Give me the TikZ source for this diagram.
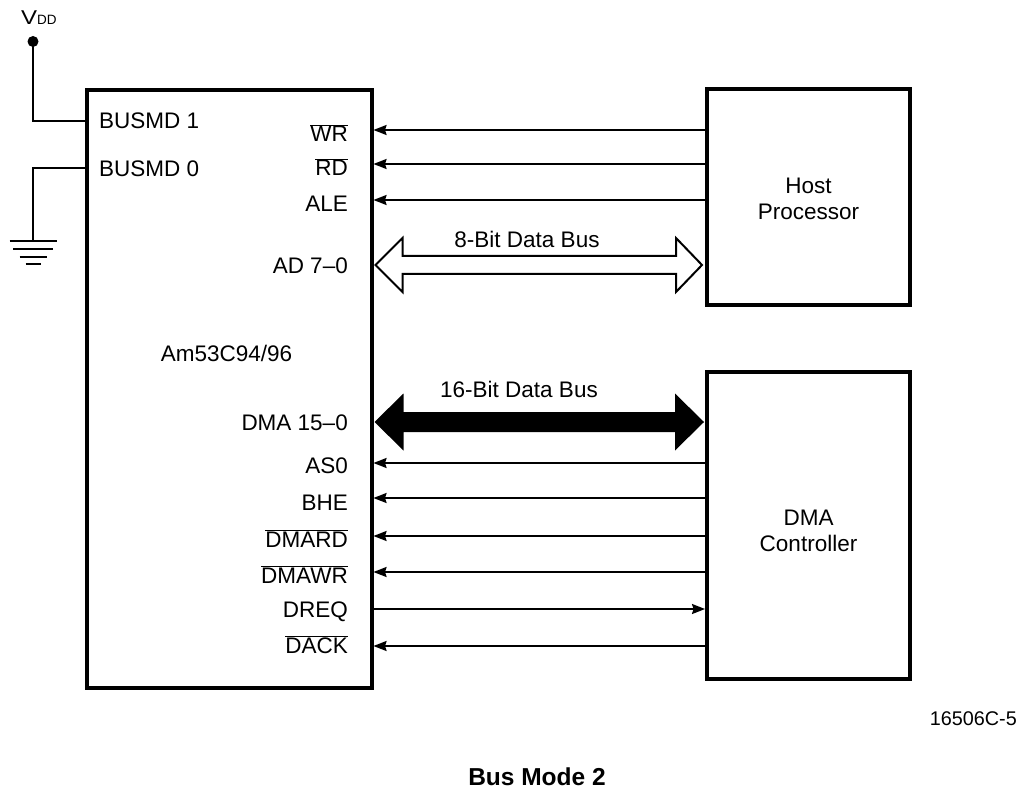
\documentclass[tikz,border=0pt]{standalone}
\usepackage{fontspec}
\setmainfont{Liberation Sans}
\usetikzlibrary{arrows.meta,calc}
\newcommand\ovl[1]{$\overline{\hbox{#1}}$}
\begin{document}
\begin{tikzpicture}[x=1pt,y=-1pt,
  font=\fontsize{22.5}{26}\selectfont,
  box/.style={draw, line width=4pt, inner sep=0pt},
  sig/.style={line width=2pt, -{Stealth[length=13pt,width=10pt,inset=1.5pt]}},
  wire/.style={line width=2pt},
  pinlbl/.style={inner sep=0pt, anchor=base east},
  txt/.style={inner sep=0pt, align=center}]
\useasboundingbox (0,0) rectangle (1024,791);

% boxes
\node[box, minimum width=284.5pt, minimum height=597.5pt] (chip) at (229.25,389.25) {};
\node[box, minimum width=203pt, minimum height=216.3pt] (host) at (808.5,196.85) {};
\node[box, minimum width=203pt, minimum height=306.5pt] (dma) at (808.5,525.25) {};

% box texts
\node[txt] (hosttxt) at (808.5,198.8) {Host\\Processor};
\node[txt] (dmatxt) at (808.5,531) {DMA\\Controller};
\node[inner sep=0pt, anchor=base] (chipname) at (226.5,361) {Am53C94/96};

% left pins
\node[inner sep=0pt, anchor=base west] (busmd1) at (99,129) {BUSMD 1};
\node[inner sep=0pt, anchor=base west] (busmd0) at (99,177) {BUSMD 0};

% right pin labels
\node[pinlbl] (lwr)    at (348,142) {\ovl{WR}};
\node[pinlbl] (lrd)    at (348,176) {\ovl{RD}};
\node[pinlbl] (lale)   at (348,212) {ALE};
\node[pinlbl] (lad)    at (348,274) {AD 7\textendash 0};
\node[pinlbl] (ldma)   at (348,430) {DMA 15\textendash 0};
\node[pinlbl] (las)    at (348,473) {AS0};
\node[pinlbl] (lbhe)   at (348,510) {BHE};
\node[pinlbl] (ldmard) at (348,547) {\ovl{DMARD}};
\node[pinlbl] (ldmawr) at (348,583) {\ovl{DMAWR}};
\node[pinlbl] (ldreq)  at (348,617) {DREQ};
\node[pinlbl] (ldack)  at (348,653) {\ovl{DACK}};

% host signals
\draw[sig] (host.west |- 0,130) -- (chip.east |- 0,130);
\draw[sig] (host.west |- 0,164) -- (chip.east |- 0,164);
\draw[sig] (host.west |- 0,200) -- (chip.east |- 0,200);

% DMA signals
\draw[sig] (dma.west |- 0,463) -- (chip.east |- 0,463);
\draw[sig] (dma.west |- 0,498) -- (chip.east |- 0,498);
\draw[sig] (dma.west |- 0,536) -- (chip.east |- 0,536);
\draw[sig] (dma.west |- 0,572) -- (chip.east |- 0,572);
\draw[sig] (chip.east |- 0,609) -- (dma.west |- 0,609);
\draw[sig] (dma.west |- 0,646) -- (chip.east |- 0,646);

% 8-bit bus (hollow)
\coordinate (a8) at (chip.east |- 0,265);
\coordinate (b8) at (host.west |- 0,265);
\draw[line width=2pt, fill=white, line join=miter]
  ($(a8)+(2,0)$) -- ++(27,-27) -- ++(0,18) -- ($(b8)+(-29,-9)$) -- ++(0,-18)
  -- ($(b8)+(-3,0)$) -- ++(-26,27) -- ++(0,-18) -- ($(a8)+(29,9)$) -- ++(0,18) -- cycle;
\node[inner sep=0pt, anchor=base] (bus8lbl) at (527,248) {8-Bit Data Bus};

% 16-bit bus (solid)
\coordinate (a16) at (chip.east |- 0,422);
\coordinate (b16) at (dma.west |- 0,422);
\fill
  ($(a16)+(1,0)$) -- ++(29,-28.5) -- ++(0,18.5) -- ($(b16)+(-30,-10)$) -- ++(0,-18.5)
  -- ($(b16)+(-1,0)$) -- ++(-29,28.5) -- ++(0,-18.5) -- ($(a16)+(30,10)$) -- ++(0,18.5) -- cycle;
\node[inner sep=0pt, anchor=base] (bus16lbl) at (519,397) {16-Bit Data Bus};

% VDD
\node[inner sep=0pt, anchor=base west] (vddlbl) at (21,25) {{\fontsize{20}{20}\selectfont\scalebox{1.2}[1]{V}}{\fontsize{13.5}{14}\selectfont DD}};
\coordinate (vdd) at (33,41.5);
\fill (vdd) circle (5.5);
\draw[wire] (vdd) |- (chip.west |- 0,121);

% ground
\coordinate (gnd) at (33,241);
\draw[wire] (chip.west |- 0,168) -| (gnd);
\draw[wire] ($(gnd)+(-23.5,0)$) -- ++(47,0);
\draw[wire] ($(gnd)+(-20,8)$) -- ++(40,0);
\draw[wire] ($(gnd)+(-13.5,16)$) -- ++(27,0);
\draw[wire] ($(gnd)+(-7.5,23)$) -- ++(15,0);

% captions
\node[inner sep=0pt, anchor=base east, font=\fontsize{19.8}{22}\selectfont] (figno) at (1017,725) {16506C-5};
\node[inner sep=0pt, anchor=base, font=\fontsize{24.5}{28}\selectfont\bfseries] (title) at (537,785) {Bus Mode 2};
\end{tikzpicture}
\end{document}
